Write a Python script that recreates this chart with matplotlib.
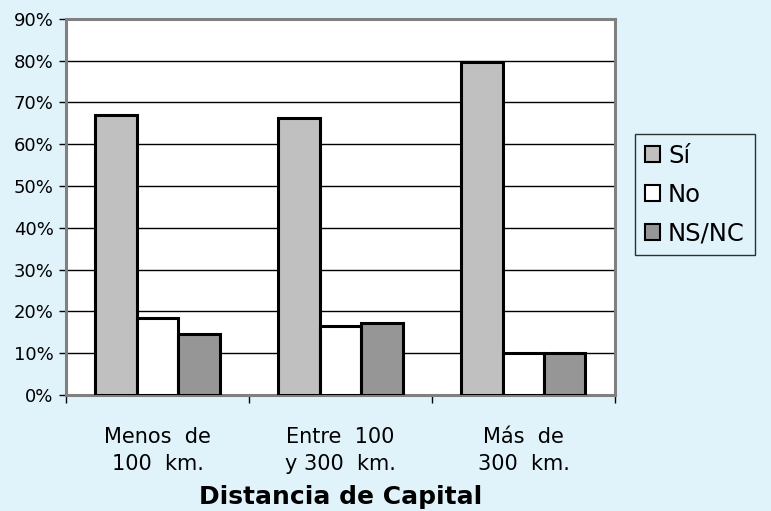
import numpy as np
import matplotlib.pyplot as plt
from matplotlib.ticker import FixedLocator, PercentFormatter

categories = ['Menos  de\n100  km.', 'Entre  100\ny 300  km.', 'Más  de\n300  km.']
series_names = ['Sí', 'No', 'NS/NC']
si = [67.0, 66.3, 79.6]
no = [18.4, 16.5, 10.1]
nsnc = [14.6, 17.2, 10.1]
colors = ['#c0c0c0', '#ffffff', '#969696']
bg = '#e0f3fb'

fig = plt.figure(figsize=(7.71, 5.11), dpi=100, facecolor=bg)
ax = fig.add_axes([0.0856, 0.227, 0.712, 0.736])
ax.set_facecolor('white')

x = np.arange(len(categories))
w = 0.226
for i, (vals, c, name) in enumerate(zip([si, no, nsnc], colors, series_names)):
    ax.bar(x + (i - 1) * w, vals, width=w, color=c, edgecolor='black',
           linewidth=2.2, label=name, zorder=3)

ax.set_xlim(-0.5, 2.5)
ax.set_ylim(0, 90)
ax.set_yticks(np.arange(0, 91, 10))
ax.yaxis.set_major_formatter(PercentFormatter(decimals=0))
ax.grid(axis='y', color='black', linewidth=1, zorder=0)
ax.set_axisbelow(True)

ax.set_xticks(x)
ax.set_xticklabels(categories, fontsize=15, linespacing=1.45)
ax.xaxis.set_minor_locator(FixedLocator([-0.5, 0.5, 1.5, 2.5]))
ax.tick_params(axis='x', which='major', length=0, pad=23)
ax.tick_params(axis='x', which='minor', length=6, width=1, color='black')
ax.tick_params(axis='y', labelsize=13, length=5, width=1, color='black', pad=4)
ax.set_xlabel('Distancia de Capital', fontsize=18, fontweight='bold')
ax.xaxis.set_label_coords(0.5, -0.238)

for s in ax.spines.values():
    s.set_color('#808080')
    s.set_linewidth(2.2)

leg = fig.legend(loc='upper left', bbox_to_anchor=(0.824, 0.738), fontsize=17.5,
                 frameon=True, fancybox=False, edgecolor='black', facecolor=bg,
                 handlelength=0.6, handleheight=0.6, handletextpad=0.35,
                 labelspacing=0.62, borderpad=0.4, borderaxespad=0)
leg.get_frame().set_linewidth(1)
for h in leg.legend_handles:
    h.set_linewidth(1.5)

fig.savefig('out.png', dpi=100, facecolor=bg)
